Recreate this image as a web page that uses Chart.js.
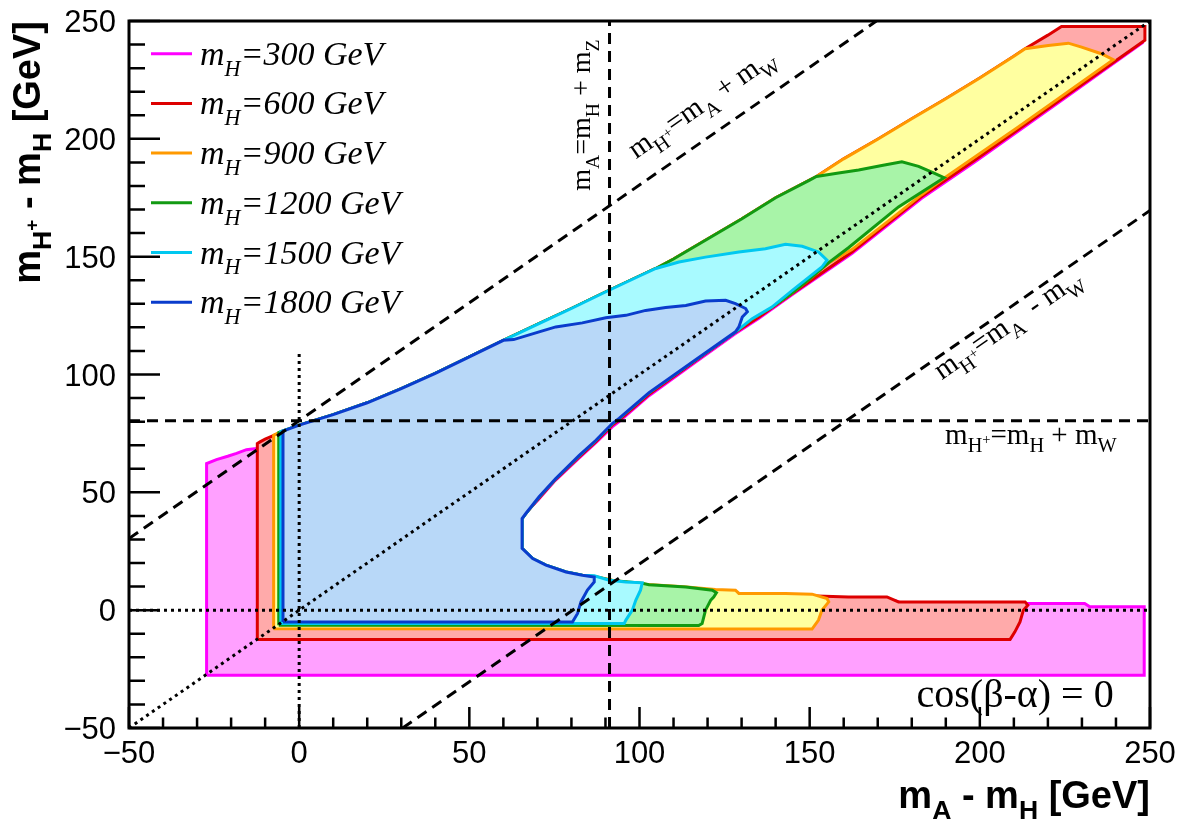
<!DOCTYPE html>
<html>
<head>
<meta charset="utf-8">
<script src="https://cdn.jsdelivr.net/npm/chart.js@4.4.1/dist/chart.umd.min.js"></script>
<style>
  html, body { margin: 0; padding: 0; background: #fff; }
  #wrap { width: 1182px; height: 828px; }
</style>
</head>
<body>
<div id="wrap"><canvas id="plot"></canvas></div>
<script>
// axis ticks
const xTicks = [-50, 0, 50, 100, 150, 200, 250];
const yTicks = [-50, 0, 50, 100, 150, 200, 250];
const tickLabels = ['\u221250', '0', '50', '100', '150', '200', '250'];

// legend
const masses = ['300', '600', '900', '1200', '1500', '1800'];
const lineColors = ['#ff00ff', '#dd0000', '#ff9900', '#129a12', '#00c8f0', '#0a3ccc'];
const fillColors = ['#ffa0ff', '#ffaaaa', '#ffffa0', '#a8f4a8', '#a8faff', '#b8d8f8'];

// shared edges of the allowed band (x = mA - mH, y = mH+ - mH)
const upperEdge = [[0, 78.5], [10, 83], [20, 88], [30, 94], [40, 100.5], [50, 107.5], [60, 114.5],
  [70, 121.3], [80, 128], [90, 135], [100, 141.8], [104.8, 145], [110, 149], [120, 157.5],
  [130, 166], [140, 175], [150, 182.5], [152, 184], [160, 191.5], [170, 199.8], [180, 208.5],
  [190, 217], [200, 225.8], [210, 235], [213.3, 238.2], [220, 244], [224, 247.7]];
const noseLower = [[86.7, 14.1], [83.2, 14.8], [78.4, 16.2], [72.5, 19.1], [68.6, 21.9], [65.5, 26.2]];
const lowerEdge = [[65.5, 38.9], [66.6, 41.0], [70.5, 48.1], [75.4, 55.9], [82.3, 65.7], [87.2, 72.1],
  [92.0, 79.2], [94.0, 81.4], [102.8, 92.3], [116.5, 106.3], [128.2, 118.1], [133.1, 123.7],
  [138.9, 128.6], [144.8, 134.6], [150, 140.6], [155.6, 147.3], [162.4, 153.0], [176.1, 168.5],
  [182.9, 176.3], [189.8, 183.6], [211.3, 205.0], [239.2, 233.6]];
const redLower = [[65.3, 26], [65.3, 39], [70.4, 47.4], [75.3, 55.4], [82.3, 65], [87.2, 71.5], [92, 78.5],
  [94, 80.7], [102.8, 91.6], [116.5, 105.8], [128, 117.7], [135, 124.3], [144.8, 134.3], [162.4, 152],
  [182.9, 175.5], [198.6, 191], [225, 218], [248.5, 241.8]];
const pinkLower = [[65, 25.7], [65, 39], [70.3, 47], [75.2, 55], [82.2, 64.5], [87.1, 71], [92, 77.8],
  [94, 80], [102.8, 91], [116.5, 105.3], [128, 117.2], [135, 123.8], [144.8, 133.8], [162.4, 151.3],
  [182.9, 174.8], [198.6, 190.3], [225, 217.3], [247.8, 240.8]];
const pinkUpper = [[248, 245.5], [222, 244], [214, 237], [200, 224.8], [190, 216], [180, 207.5],
  [170, 198.8], [160, 190.5], [150, 181.5], [140, 174], [130, 165], [120, 156.5], [110, 148],
  [100, 140.8], [90, 134], [80, 127], [70, 120.3], [60, 113.5], [50, 106.5], [40, 99.5], [30, 93],
  [20, 87], [10, 81.3], [0, 76.8], [-3.8, 74.5], [-10, 70], [-12.6, 68.6], [-15.5, 68.1],
  [-18.4, 66.5], [-21, 65.3], [-24.3, 63.9], [-27.2, 62.2]];

function upTo(edge, xmax) { return edge.filter(p => p[0] <= xmax); }

const region300 = [[-27.2, -27.6], [248.3, -27.6], [248.3, 1.4], [232.3, 1.4], [230.8, 2.8], [214, 2.8],
  [177, 3.0], [175, 4.1], [145, 4.4], [143, 5.6], [122, 5.6], [121, 7.3], [113, 7.3], [108, 8.2],
  [100, 9.3], [92, 11.2], [87, 13.0], [83, 13.6], [78.4, 15.0], [72.5, 18.0], [68.5, 21.0],
  ...pinkLower, ...pinkUpper, [-27.2, -27.6]];
const region600 = [[-12.3, -12.4], [208.9, -12.4], [210.3, -9.2], [211.8, -5], [212.8, 0], [214.1, 2.1],
  [213.3, 3.5], [176.1, 3.5], [172.7, 5.6], [161.4, 5.6], [142.9, 6.4], [130, 7.0], [122, 8.3],
  [113, 9.5], [100, 10.6], [92, 12.0], [87, 13.6], [83.2, 14.4], [78.4, 15.8], [72.5, 18.8],
  [68.6, 21.6], ...redLower, [248.5, 247.7], ...upperEdge.slice().reverse(),
  [-5, 75.6], [-10, 72.6], [-11.5, 71.4], [-12.3, 70.7], [-12.3, -12.4]];
const region900 = [[-7.5, -7.9], [150.7, -8], [152.6, -4.2], [153.6, 0], [155.6, 3.5], [155.1, 4.9],
  [150.7, 6.8], [142.9, 7.1], [129.2, 7.1], [128.2, 8.5], [122.3, 8.8], [113, 9.9], [100, 11.1],
  [92, 12.7], [87, 14.3], ...noseLower.slice(1), ...lowerEdge, [235.7, 236.1], [229.9, 238.9],
  [226, 240.6], [220.1, 239.6], ...upTo(upperEdge, 213.3).reverse(), [-5, 76], [-7.5, 74.2], [-7.5, -7.9]];
const region1200 = [[-6, -6.4], [117.4, -6.5], [118.4, -5.7], [119.4, 0], [120.9, 4.2], [121.8, 5.6],
  [122.6, 7.4], [121.4, 8.5], [113.6, 9.8], [102.8, 10.8], [100.8, 11.4], [92, 12.6], [87, 14.2],
  ...noseLower.slice(1), ...upTo(lowerEdge, 150), [155.6, 147.5], [161.4, 153.8], [176.1, 171.1],
  [189.5, 183.5], [186.4, 185.6], [182, 188.3], [177.1, 190.3], [171.2, 188.7], [164.4, 186.8],
  [158.5, 185.5], ...upTo(upperEdge, 152).reverse(), [-6, 75.4], [-6, -6.4]];
const region1500 = [[-5.4, -5.7], [95.5, -5.7], [96, -4.2], [97.9, 0], [98.9, 4.2], [100.3, 8.5],
  [100.8, 11.6], [96, 12], [91.1, 12.7], [86.7, 14.6], ...noseLower.slice(1), ...upTo(lowerEdge, 138.9),
  [145, 135.8], [153.6, 145.6], [155.1, 148.5], [152.6, 152], [147.8, 154.4], [142.9, 155.3],
  [137, 153.4], [129.2, 152], [119.4, 149.8], [111.6, 147.7], ...upTo(upperEdge, 104.8).reverse(),
  [-5.4, 75.8], [-5.4, -5.7]];
const region1800 = [[-4.75, -5], [80.3, -5], [81.8, -1.4], [82.8, 3.5], [84.7, 8.5], [86.7, 12],
  ...noseLower, ...upTo(lowerEdge, 128.2), [129.2, 120.2], [130.2, 124.4], [131.7, 126.6], [131.2, 128],
  [128.2, 130.1], [125.3, 131.5], [119.4, 131.2], [113.6, 129.3], [107.7, 128.4], [101.8, 127.2],
  [96, 125.1], [90.1, 124.1], [83.2, 121.9], [75.4, 120.2], [70.5, 118.1], [63, 114.8],
  ...upTo(upperEdge, 60).reverse(), [-4.75, 76], [-4.75, -5]];
const regions = [region300, region600, region900, region1200, region1500, region1800];

// kinematic reference lines
const lineAplusW = [[-50, 30.4], [169.6, 250]];
const lineAminusW = [[30.4, -50], [250, 169.6]];
const lineDiagonal = [[-50, -50], [250, 250]];
const lineHplusW = [[-50, 80.4], [250, 80.4]];
const lineHplusZ = [[91.19, -50], [91.19, 250]];
const lineXzero = [[0, -50], [0, 110]];
const lineYzero = [[-50, 0], [250, 0]];

const serif = '"Liberation Serif", "Times New Roman", serif';
const sans = '"Liberation Sans", Arial, sans-serif';

function pts(arr) { return arr.map(p => ({ x: p[0], y: p[1] })); }

const datasets = [];
regions.forEach((r, i) => {
  datasets.push({
    data: pts(r), showLine: true, fill: 'shape',
    borderColor: lineColors[i], backgroundColor: fillColors[i],
    borderWidth: 3, pointRadius: 0, order: 20 - i
  });
});
function refLine(arr, dash) {
  datasets.push({
    data: pts(arr), showLine: true, fill: false, borderColor: '#000',
    backgroundColor: '#000', borderWidth: 3, borderDash: dash, pointRadius: 0, order: 0
  });
}
refLine(lineAplusW, [11, 7]);
refLine(lineAminusW, [11, 7]);
refLine(lineHplusW, [11, 7]);
refLine(lineHplusZ, [11, 7]);
refLine(lineDiagonal, [3, 4]);
refLine(lineXzero, [3, 4]);
refLine(lineYzero, [3, 4]);

function richWidth(ctx, parts, size, style) {
  let w = 0;
  for (const p of parts) {
    ctx.font = style + ' ' + (size * p[1]) + 'px ' + p[3];
    w += ctx.measureText(p[0]).width;
  }
  return w;
}
function drawRich(ctx, parts, x, y, angle, size, style, align) {
  ctx.save();
  ctx.translate(x, y);
  ctx.rotate(angle);
  ctx.textAlign = 'left';
  ctx.textBaseline = 'alphabetic';
  ctx.fillStyle = '#000';
  let u = align === 'right' ? -richWidth(ctx, parts, size, style) : 0;
  for (const p of parts) {
    ctx.font = style + ' ' + (size * p[1]) + 'px ' + p[3];
    ctx.fillText(p[0], u, p[2] * size);
    u += ctx.measureText(p[0]).width;
  }
  ctx.restore();
}
function S(t) { return [t, 1, 0, serif]; }
function Ssub(t) { return [t, 0.7, 0.3, serif]; }
function Ssup(t) { return [t, 0.5, 0.02, serif]; }

const decorations = {
  id: 'decorations',
  afterDatasetsDraw(chart) {
    const ctx = chart.ctx;
    const a = chart.chartArea;
    const xs = chart.scales.x, ys = chart.scales.y;
    ctx.save();
    // frame
    ctx.strokeStyle = '#000';
    ctx.lineWidth = 3;
    ctx.strokeRect(a.left, a.top, a.right - a.left, a.bottom - a.top);
    // ticks (inside)
    ctx.lineWidth = 2.5;
    ctx.beginPath();
    for (let v = -50; v <= 250; v += 10) {
      const major = v % 50 === 0;
      const px = xs.getPixelForValue(v);
      ctx.moveTo(px, a.bottom);
      ctx.lineTo(px, a.bottom - (major ? 21 : 10.5));
      const py = ys.getPixelForValue(v);
      ctx.moveTo(a.left, py);
      ctx.lineTo(a.left + (major ? 31 : 16), py);
    }
    ctx.stroke();
    // tick labels
    ctx.fillStyle = '#000';
    ctx.font = '31px ' + sans;
    ctx.textAlign = 'center';
    ctx.textBaseline = 'alphabetic';
    xTicks.forEach((v, i) => ctx.fillText(tickLabels[i], xs.getPixelForValue(v), a.bottom + 35));
    ctx.textAlign = 'right';
    yTicks.forEach((v, i) => ctx.fillText(tickLabels[i], a.left - 13, ys.getPixelForValue(v) + 11));
    ctx.restore();

    // axis titles
    const bsub = (t) => [t, 0.7, 0.28, sans];
    const b = (t) => [t, 1, 0, sans];
    drawRich(ctx, [b('m'), bsub('A'), b(' - m'), bsub('H'), b(' [GeV]')], a.right, a.bottom + 80, 0, 38, 'bold', 'right');
    drawRich(ctx, [b('m'), bsub('H'), ['+', 0.5, -0.05, sans], b(' - m'), bsub('H'), b(' [GeV]')], 40, a.top, -Math.PI / 2, 38, 'bold', 'right');

    // annotations
    const ang = Math.atan2(ys.getPixelForValue(lineAplusW[1][1]) - ys.getPixelForValue(lineAplusW[0][1]),
      xs.getPixelForValue(lineAplusW[1][0]) - xs.getPixelForValue(lineAplusW[0][0]));
    drawRich(ctx, [S('m'), Ssub('A'), S('=m'), Ssub('H'), S(' + m'), Ssub('Z')],
      xs.getPixelForValue(85.6), ys.getPixelForValue(178), -Math.PI / 2, 28, 'normal', 'left');
    drawRich(ctx, [S('m'), Ssub('H'), Ssup('+'), S('=m'), Ssub('A'), S(' + m'), Ssub('W')],
      xs.getPixelForValue(99), ys.getPixelForValue(191.3), ang, 29, 'normal', 'left');
    drawRich(ctx, [S('m'), Ssub('H'), Ssup('+'), S('=m'), Ssub('A'), S('  - m'), Ssub('W')],
      xs.getPixelForValue(188.8), ys.getPixelForValue(97.6), ang, 29, 'normal', 'left');
    drawRich(ctx, [S('m'), Ssub('H'), Ssup('+'), S('=m'), Ssub('H'), S(' + m'), Ssub('W')],
      xs.getPixelForValue(189.8), ys.getPixelForValue(70.7), 0, 29, 'normal', 'left');
    drawRich(ctx, [S('cos(\u03b2-\u03b1) = 0')], xs.getPixelForValue(181.4), ys.getPixelForValue(-41.1), 0, 40, 'normal', 'left');

    // legend
    ctx.save();
    masses.forEach((m, i) => {
      const y = a.top + 32.7 + i * 49.7;
      ctx.strokeStyle = lineColors[i];
      ctx.lineWidth = 3;
      ctx.beginPath();
      ctx.moveTo(a.left + 22, y);
      ctx.lineTo(a.left + 63, y);
      ctx.stroke();
      drawRich(ctx, [S('m'), [ 'H', 0.65, 0.32, serif ], S('=' + m + ' GeV')], a.left + 71, y + 11, 0, 34, 'italic', 'left');
    });
    ctx.restore();
  }
};

new Chart(document.getElementById('plot'), {
  type: 'scatter',
  data: { datasets: datasets },
  options: {
    responsive: true,
    maintainAspectRatio: false,
    animation: false,
    layout: { padding: { left: 129, right: 32, top: 21, bottom: 100 } },
    scales: {
      x: { type: 'linear', min: -50, max: 250, display: false },
      y: { type: 'linear', min: -50, max: 250, display: false }
    },
    elements: { line: { tension: 0 }, point: { radius: 0 } },
    plugins: { legend: { display: false }, tooltip: { enabled: false } }
  },
  plugins: [decorations]
});
</script>
</body>
</html>
